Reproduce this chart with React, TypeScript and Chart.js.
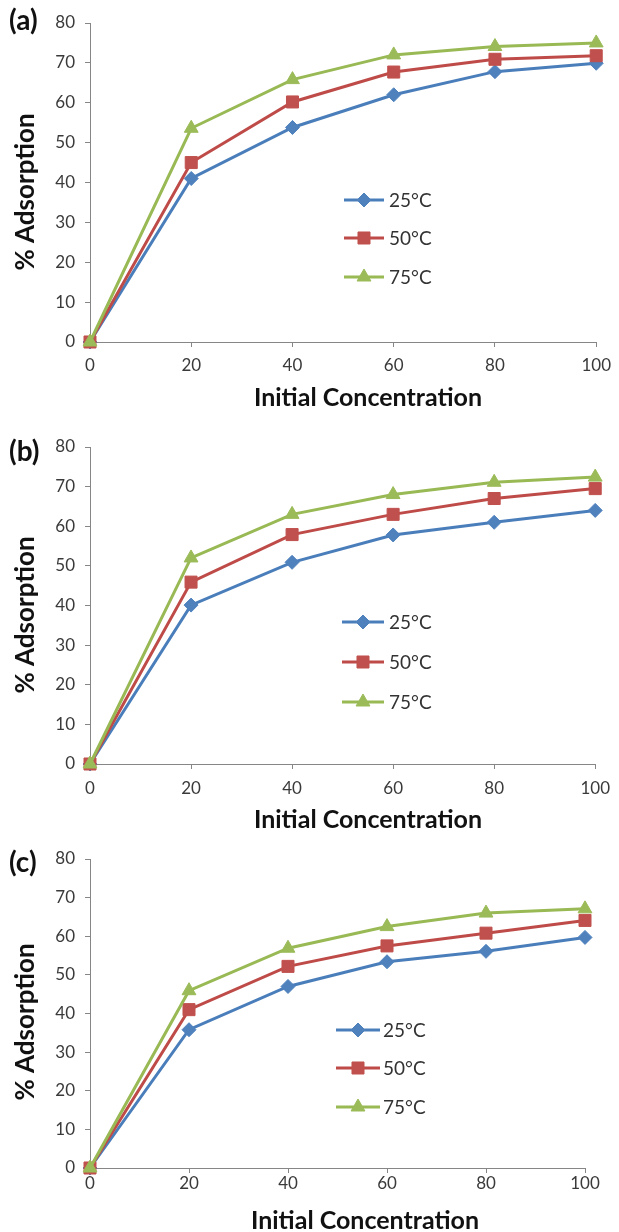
import React, { useEffect, useRef } from 'react';
import { Chart, registerables } from 'chart.js';
import { drawPoint } from 'chart.js/helpers';

Chart.register(...registerables);

// ---------- data ----------
const concentrations = [0, 20, 40, 60, 80, 100];
const seriesLabels = ['25°C', '50°C', '75°C'];
const panelNames = ['(a)', '(b)', '(c)'];
const xAxisTitle = 'Initial Concentration';
const yAxisTitle = '% Adsorption';

const panelA25 = [0, 41, 53.8, 62, 67.8, 69.9];
const panelA50 = [0, 45, 60.2, 67.7, 70.9, 71.8];
const panelA75 = [0, 53.6, 65.8, 72, 74.1, 75];

const panelB25 = [0, 40.1, 50.9, 57.8, 61, 64];
const panelB50 = [0, 45.9, 57.9, 63, 67, 69.5];
const panelB75 = [0, 52, 63, 68, 71.1, 72.4];

const panelC25 = [0, 35.8, 47, 53.4, 56.1, 59.7];
const panelC50 = [0, 41, 52.2, 57.5, 60.8, 64.1];
const panelC75 = [0, 45.9, 56.9, 62.5, 66, 67.1];

// ---------- styles ----------
const lineColors = ['#4A7EBB', '#BE4B48', '#98B954'];
const markerColors = ['#4F81BD', '#C0504D', '#9BBB59'];
const markerStyles = ['rectRot', 'rect', 'triangle'];
const markerRadii = [7, 8.5, 8];
const axisColor = '#868686';
const tickColor = '#3a3a3a';
const FONT = 'Lato, "Open Sans", sans-serif';

type Layout = {
  top: number; height: number; chartTop: number; chartBottom: number; right: number;
  xTickPad: number; xTitle: [number, number]; yTitle: [number, number]; labelY: number;
  legendX1: number; legendX2: number; legendText: number; legendRows: number[];
};

const layouts: Layout[] = [
  { top: 0, height: 415, chartTop: 23, chartBottom: 342, right: 602, xTickPad: 8, xTitle: [368, 398], yTitle: [26, 192], labelY: 21,
    legendX1: 344, legendX2: 384, legendText: 389, legendRows: [200, 238, 277] },
  { top: 415, height: 420, chartTop: 32, chartBottom: 349, right: 599, xTickPad: 9, xTitle: [368, 405], yTitle: [26, 200], labelY: 37,
    legendX1: 342, legendX2: 384, legendText: 389, legendRows: [207, 247, 287] },
  { top: 835, height: 397, chartTop: 24, chartBottom: 333, right: 585, xTickPad: 0, xTitle: [365, 386], yTitle: [26, 187], labelY: 28,
    legendX1: 336, legendX2: 380, legendText: 383, legendRows: [195, 233, 272] },
];

const panelSeries = [
  [panelA25, panelA50, panelA75],
  [panelB25, panelB50, panelB75],
  [panelC25, panelC50, panelC75],
];

const WIDTH = 619;
const Y_AXIS_W = 90;
const X_AXIS_H = 40;

function Panel({ index }: { index: number }) {
  const ref = useRef<HTMLCanvasElement | null>(null);
  useEffect(() => {
    const L = layouts[index];
    const series = panelSeries[index];
    const canvas = ref.current!;
    const decor = {
      id: 'decor' + index,
      afterDraw(chart: any) {
        const ctx = chart.ctx as CanvasRenderingContext2D;
        ctx.save();
        ctx.fillStyle = '#111';
        ctx.textBaseline = 'middle';
        // panel label
        ctx.textAlign = 'left';
        ctx.font = `bold 28px ${FONT}`;
        ctx.fillText(panelNames[index], 9, L.labelY);
        // x title
        ctx.textAlign = 'center';
        ctx.font = `bold 25px ${FONT}`;
        ctx.fillText(xAxisTitle, L.xTitle[0], L.xTitle[1]);
        // y title
        ctx.save();
        ctx.translate(L.yTitle[0], L.yTitle[1]);
        ctx.rotate(-Math.PI / 2);
        ctx.font = `bold 26px ${FONT}`;
        ctx.fillText(yAxisTitle, 0, 0);
        ctx.restore();
        // legend
        ctx.font = `19px ${FONT}`;
        ctx.textAlign = 'left';
        for (let i = 0; i < seriesLabels.length; i++) {
          const y = L.legendRows[i];
          ctx.strokeStyle = lineColors[i];
          ctx.lineWidth = 3;
          ctx.beginPath();
          ctx.moveTo(L.legendX1, y);
          ctx.lineTo(L.legendX2, y);
          ctx.stroke();
          ctx.fillStyle = markerColors[i];
          ctx.strokeStyle = markerColors[i];
          ctx.lineWidth = 1;
          drawPoint(ctx, { pointStyle: markerStyles[i], radius: markerRadii[i], rotation: 0, borderWidth: 1 } as any,
            (L.legendX1 + L.legendX2) / 2, y);
          ctx.fillStyle = '#333';
          ctx.fillText(seriesLabels[i], L.legendText, y + 1);
        }
        ctx.restore();
      },
    };

    const chart = new Chart(canvas, {
      type: 'line',
      data: {
        labels: concentrations,
        datasets: seriesLabels.map((label, i) => ({
          label,
          data: concentrations.map((x, j) => ({ x, y: series[i][j] })),
          borderColor: lineColors[i],
          backgroundColor: markerColors[i],
          pointBackgroundColor: markerColors[i],
          pointBorderColor: markerColors[i],
          pointBorderWidth: 1,
          pointStyle: markerStyles[i] as any,
          pointRadius: markerRadii[i],
          borderWidth: 3,
          tension: 0,
          fill: false,
          clip: false as any,
          order: 2 - i,
        })),
      },
      options: {
        responsive: false,
        animation: false,
        devicePixelRatio: 1,
        layout: {
          padding: {
            top: L.chartTop,
            left: 0,
            right: WIDTH - L.right,
            bottom: L.height - L.chartBottom - X_AXIS_H,
          },
        },
        plugins: { legend: { display: false }, tooltip: { enabled: false }, title: { display: false } },
        scales: {
          x: {
            type: 'linear',
            min: 0,
            max: 100,
            ticks: { stepSize: 20, color: tickColor, font: { family: FONT, size: 17 }, padding: L.xTickPad },
            grid: { drawOnChartArea: false, drawTicks: true, tickLength: 5, color: axisColor },
            border: { color: axisColor, width: 1 },
            afterFit: (s: any) => { s.height = X_AXIS_H; },
          },
          y: {
            type: 'linear',
            min: 0,
            max: 80,
            ticks: { stepSize: 10, color: tickColor, font: { family: FONT, size: 17 }, padding: 10 },
            grid: { drawOnChartArea: false, drawTicks: true, tickLength: 5, color: axisColor },
            border: { color: axisColor, width: 1 },
            afterFit: (s: any) => { s.width = Y_AXIS_W; },
          },
        },
      },
      plugins: [decor],
    });
    return () => chart.destroy();
  }, [index]);

  const L = layouts[index];
  return (
    <canvas
      ref={ref}
      width={WIDTH}
      height={L.height}
      style={{ position: 'absolute', left: 0, top: L.top, width: WIDTH, height: L.height, display: 'block' }}
    />
  );
}

export default function App() {
  return (
    <div style={{ position: 'absolute', left: 0, top: 0, width: WIDTH, height: 1232, background: '#fff', overflow: 'hidden' }}>
      <Panel index={0} />
      <Panel index={1} />
      <Panel index={2} />
    </div>
  );
}
